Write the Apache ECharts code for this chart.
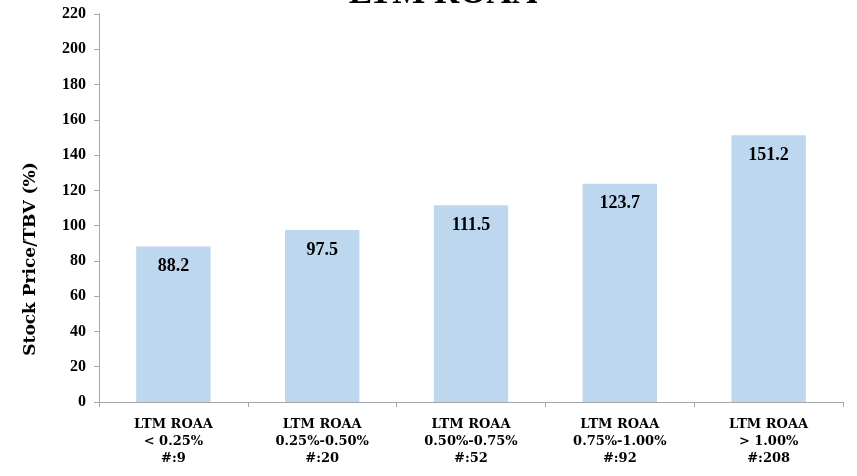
<!DOCTYPE html>
<html><head><meta charset="utf-8">
<script src="https://cdn.jsdelivr.net/npm/echarts@6/dist/echarts.min.js"></script>
<style>html,body{margin:0;padding:0;background:#fff}#c{width:857px;height:476px}</style>
</head><body><div id="c"></div>
<script>
var categories = ["LTM ROAA\n< 0.25%\n#:9", "LTM ROAA\n0.25%-0.50%\n#:20", "LTM ROAA\n0.50%-0.75%\n#:52", "LTM ROAA\n0.75%-1.00%\n#:92", "LTM ROAA\n> 1.00%\n#:208"];
var values = [88.2, 97.5, 111.5, 123.7, 151.2];
var titleText = "LTM ROAA";
var yName = "Stock Price/TBV (%)";
var serif = "'DejaVu Serif', serif";
var times = "'Liberation Serif', serif";
var chart = echarts.init(document.getElementById('c'));
chart.setOption({
  animation: false,
  title: { text: titleText, left: 438, textAlign: 'center', top: -29,
    textStyle: { fontFamily: times, fontWeight: 'bold', fontSize: 35, color: '#000' } },
  graphic: [{ type: 'text', x: 31, y: 259, rotation: Math.PI / 2,
    style: { text: yName, fontFamily: serif, fontWeight: 'bold', fontSize: 17, fill: '#000',
      textAlign: 'center', textVerticalAlign: 'middle' } }],
  grid: { left: 99, right: 14, top: 14, bottom: 74, containLabel: false },
  xAxis: { type: 'category', data: categories,
    axisLine: { lineStyle: { color: '#A6A6A6' } },
    axisTick: { show: true, length: 5, lineStyle: { color: '#A6A6A6' } },
    axisLabel: { color: '#000', fontFamily: serif, fontWeight: 'bold', fontSize: 13, lineHeight: 17, margin: 14, interval: 0 } },
  yAxis: { type: 'value', min: 0, max: 220, interval: 20,
    axisLine: { show: true, lineStyle: { color: '#A6A6A6' } },
    axisTick: { show: true, length: 5, lineStyle: { color: '#A6A6A6' } },
    splitLine: { show: false },
    axisLabel: { color: '#000', fontFamily: times, fontWeight: 'bold', fontSize: 16, margin: 13 } },
  series: [{ type: 'bar', data: values, barWidth: '50%',
    itemStyle: { color: '#BDD7EE' },
    label: { show: true, position: 'insideTop', distance: 11, color: '#000', fontFamily: times, fontWeight: 'bold', fontSize: 18,
      formatter: function (p) { return p.value.toFixed(1); } } }]
});
</script></body></html>
